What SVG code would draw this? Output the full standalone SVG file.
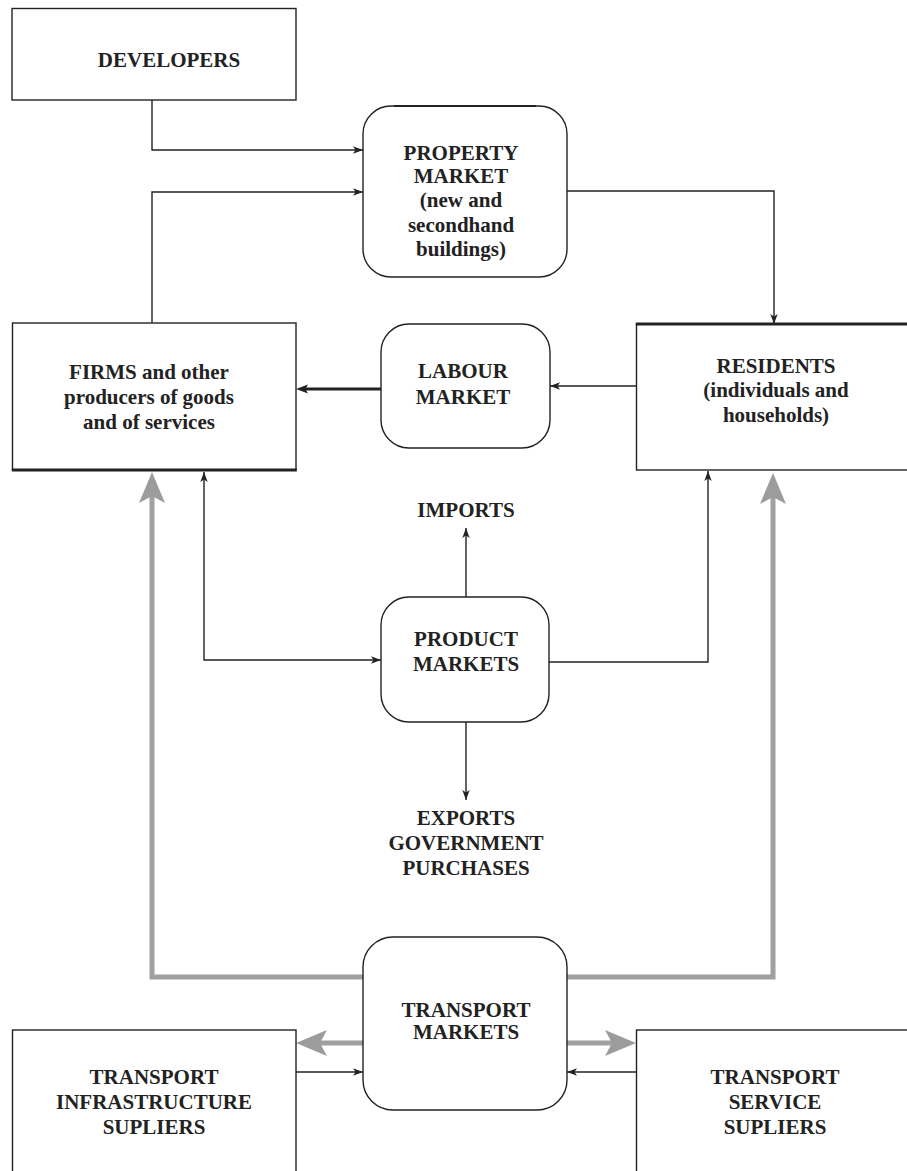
<svg xmlns="http://www.w3.org/2000/svg" width="907" height="1171" viewBox="0 0 907 1171">
<style>
  .box { fill: #ffffff; stroke: #222; stroke-width: 1.4; }
  .edge { stroke: #222; stroke-width: 3; fill: none; }
  .lbl { font-family: "Liberation Serif", "Times New Roman", serif; font-weight: bold; font-size: 21px; fill: #222; text-anchor: middle; }
  .con { fill: none; stroke: #222; stroke-width: 1.4; stroke-linejoin: miter; }
  .thick { fill: none; stroke: #222; stroke-width: 3; }
  .gray { fill: none; stroke: #a0a0a0; stroke-width: 5; stroke-linejoin: miter; }
</style>
<defs>
  <marker id="arrB" markerUnits="userSpaceOnUse" markerWidth="12" markerHeight="9" refX="10" refY="4.5" orient="auto-start-reverse">
    <path d="M0,0.8 L10,4.5 L0,8.2 L2.5,4.5 z" fill="#222"/>
  </marker>
  <marker id="arrT" markerUnits="userSpaceOnUse" markerWidth="14" markerHeight="10" refX="5" refY="5" orient="auto">
    <path d="M0,0.5 L12,5 L0,9.5 L2.5,5 z" fill="#222"/>
  </marker>
  <marker id="arrG" markerUnits="userSpaceOnUse" markerWidth="32" markerHeight="28" refX="11" refY="14" orient="auto">
    <path d="M0,1 L31,14 L0,27 L7,14 z" fill="#9c9c9c"/>
  </marker>
</defs>

<g id="connectors">
  <path class="con" d="M152,100 V150 H363" marker-end="url(#arrB)"/>
  <path class="con" d="M152,323 V192 H363" marker-end="url(#arrB)"/>
  <path class="con" d="M567,191 H774 V324" marker-end="url(#arrB)"/>
  <path class="con" d="M636,386 H550" marker-end="url(#arrB)"/>
  <path class="thick" d="M381,389 H303" marker-end="url(#arrT)"/>
  <path class="con" d="M204,472 V660 H381" marker-start="url(#arrB)" marker-end="url(#arrB)"/>
  <path class="con" d="M549,662 H708 V471" marker-end="url(#arrB)"/>
  <path class="con" d="M466,597 V528" marker-end="url(#arrB)"/>
  <path class="con" d="M466,722 V800" marker-end="url(#arrB)"/>
  <path class="gray" d="M363,977 H152 V492" marker-end="url(#arrG)"/>
  <path class="gray" d="M567,977 H773 V493" marker-end="url(#arrG)"/>
  <path class="gray" d="M363,1043 H316" marker-end="url(#arrG)"/>
  <path class="gray" d="M567,1043 H616" marker-end="url(#arrG)"/>
  <path class="con" d="M296,1072 H363" marker-end="url(#arrB)"/>
  <path class="con" d="M636,1072 H567" marker-end="url(#arrB)"/>
</g>

<g id="developers">
  <rect class="box" x="12" y="8.5" width="284" height="91.5"/>
  <text class="lbl" x="169" y="67">DEVELOPERS</text>
</g>

<g id="property-market">
  <rect class="box" x="363" y="106" width="204" height="171" rx="28" ry="28"/>
  <line x1="394" y1="106" x2="536" y2="106" stroke="#222" stroke-width="2"/>
  <text class="lbl" x="461" y="160">PROPERTY</text>
  <text class="lbl" x="461" y="183">MARKET</text>
  <text class="lbl" x="461" y="207">(new and</text>
  <text class="lbl" x="461" y="232">secondhand</text>
  <text class="lbl" x="461" y="256">buildings)</text>
</g>

<g id="firms">
  <rect class="box" x="12.5" y="323" width="283.5" height="147"/>
  <line class="edge" x1="11.8" y1="470" x2="296.7" y2="470"/>
  <text class="lbl" x="149" y="379">FIRMS and other</text>
  <text class="lbl" x="149" y="404">producers of goods</text>
  <text class="lbl" x="149" y="429">and of services</text>
</g>

<g id="labour-market">
  <rect class="box" x="381" y="324" width="169" height="124" rx="28" ry="28"/>
  <text class="lbl" x="463" y="378">LABOUR</text>
  <text class="lbl" x="463" y="404">MARKET</text>
</g>

<g id="residents">
  <rect class="box" x="636.5" y="324" width="290" height="146"/>
  <line class="edge" x1="635.8" y1="324" x2="910" y2="324"/>
  <text class="lbl" x="776" y="373">RESIDENTS</text>
  <text class="lbl" x="776" y="397">(individuals and</text>
  <text class="lbl" x="776" y="422">households)</text>
</g>

<g id="imports">
  <text class="lbl" x="466" y="517">IMPORTS</text>
</g>

<g id="product-markets">
  <rect class="box" x="381" y="597" width="168" height="125" rx="28" ry="28"/>
  <text class="lbl" x="466" y="646">PRODUCT</text>
  <text class="lbl" x="466" y="671">MARKETS</text>
</g>

<g id="exports">
  <text class="lbl" x="466" y="825">EXPORTS</text>
  <text class="lbl" x="466" y="850">GOVERNMENT</text>
  <text class="lbl" x="466" y="875">PURCHASES</text>
</g>

<g id="transport-markets">
  <rect class="box" x="363" y="937" width="204" height="173" rx="30" ry="30"/>
  <text class="lbl" x="466" y="1017">TRANSPORT</text>
  <text class="lbl" x="466" y="1039">MARKETS</text>
</g>

<g id="infrastructure-suppliers">
  <rect class="box" x="12.5" y="1030" width="283.5" height="170"/>
  <text class="lbl" x="154" y="1084">TRANSPORT</text>
  <text class="lbl" x="154" y="1109">INFRASTRUCTURE</text>
  <text class="lbl" x="154" y="1134">SUPLIERS</text>
</g>

<g id="service-suppliers">
  <rect class="box" x="636.5" y="1030" width="300" height="170"/>
  <text class="lbl" x="775" y="1084">TRANSPORT</text>
  <text class="lbl" x="775" y="1109">SERVICE</text>
  <text class="lbl" x="775" y="1134">SUPLIERS</text>
</g>
</svg>
